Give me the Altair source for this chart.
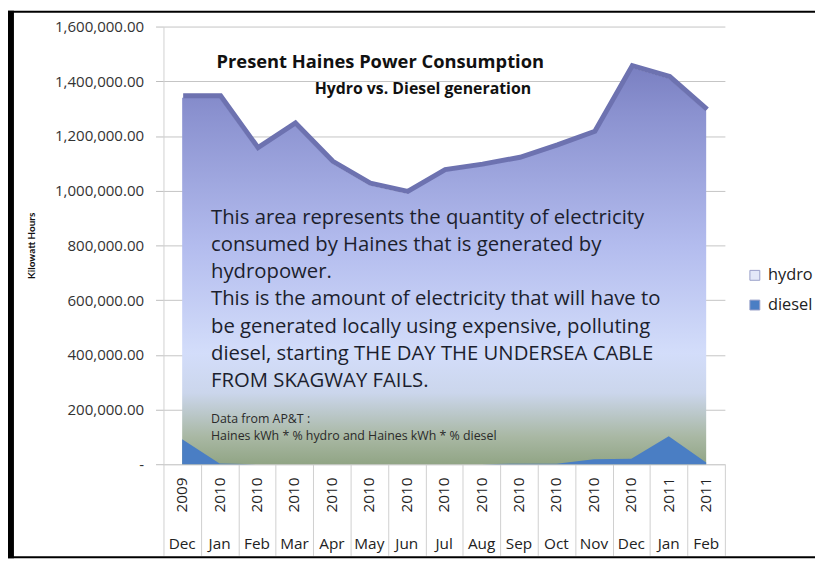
import altair as alt
import pandas as pd

months = ["Dec", "Jan", "Feb", "Mar", "Apr", "May", "Jun", "Jul", "Aug", "Sep", "Oct", "Nov", "Dec", "Jan", "Feb"]
years = ["2009", "2010", "2010", "2010", "2010", "2010", "2010", "2010", "2010", "2010", "2010", "2010", "2010", "2011", "2011"]
hydro = [1340000, 1340000, 1150000, 1240000, 1100000, 1020000, 990000, 1070000,
         1090000, 1115000, 1160000, 1210000, 1450000, 1410000, 1290000]
diesel = [91000, 3000, 0, 0, 0, 0, 0, 0, 0, 2000, 2000, 18000, 20000, 102000, 6000]
y_ticks = [0, 200000, 400000, 600000, 800000, 1000000, 1200000, 1400000, 1600000]
series_names = ["hydro", "diesel"]

title_text = "Present Haines Power Consumption"
subtitle_text = "Hydro vs. Diesel generation"
note_lines = [
    "This area represents the quantity of electricity",
    "consumed by Haines that is generated by",
    "hydropower.",
    "This is the amount of electricity that will have to",
    "be generated locally using expensive, polluting",
    "diesel, starting THE DAY THE UNDERSEA CABLE",
    "FROM SKAGWAY FAILS.",
]
source_lines = ["Data from AP&T :", "Haines kWh  * % hydro and Haines kWh * % diesel"]

cats = [f"{m} {y}" for m, y in zip(months, years)]
df = pd.DataFrame({"cat": cats, "month": months, "year": years, "hydro": hydro, "diesel": diesel})
one = pd.DataFrame({"k": [0]})

FONT = "Open Sans"
W, H = 567, 442

x = alt.X(
    "cat:N", sort=cats, title=None,
    scale=alt.Scale(type="band", paddingInner=0, paddingOuter=0),
    axis=alt.Axis(labels=False, ticks=True, tickBand="extent", tickSize=92,
                  tickColor="#cfcfcf", domain=True, domainColor="#cfcfcf", grid=False),
)
yscale = alt.Scale(domain=[0, 1600000], nice=False)
yaxis = alt.Axis(
    values=y_ticks, title="Kilowatt Hours",
    labelExpr="datum.value == 0 ? '-' : format(datum.value, ',.2f')",
    labelFont=FONT, labelFontSize=15.2, labelColor="#333333", labelPadding=12,
    tickSize=8, tickColor="#bdbdbd", domain=True, domainColor="#d0d0d0",
    grid=True, gridColor="#c4c4c4",
    titleFont="Lato", titleFontSize=10, titleFontWeight="bold", titleColor="#111111",
    titleX=-133, titleY=H / 2, titleAngle=270, titleAlign="center", titleBaseline="middle",
)

grad = alt.Gradient(
    gradient="linear", x1=0, y1=0, x2=0, y2=1,
    stops=[
        alt.GradientStop(color="#7a80c2", offset=0.0),
        alt.GradientStop(color="#8b92d0", offset=0.12),
        alt.GradientStop(color="#b3bcee", offset=0.45),
        alt.GradientStop(color="#d3ddfa", offset=0.72),
        alt.GradientStop(color="#cbd6ec", offset=0.82),
        alt.GradientStop(color="#a9b8a4", offset=0.93),
        alt.GradientStop(color="#91a585", offset=1.0),
    ],
)

hydro_area = alt.Chart(df).mark_area(fill=grad).encode(
    x=x, y=alt.Y("hydro:Q", scale=yscale, axis=yaxis))
hydro_edge = alt.Chart(df).mark_line(color="#6d72b0", strokeWidth=5, yOffset=-2, xOffset=1).encode(
    x=x, y=alt.Y("hydro:Q", scale=yscale, axis=yaxis))
diesel_area = alt.Chart(df).mark_area(color="#4a7ec4").encode(
    x=x, y=alt.Y("diesel:Q", scale=yscale, axis=yaxis))

year_text = alt.Chart(df).mark_text(angle=270, font=FONT, fontSize=15.5, color="#222222",
                                    align="center", baseline="middle").encode(
    x=x, y=alt.value(473), text="year:N")
month_text = alt.Chart(df).mark_text(font=FONT, fontSize=15.5, color="#222222",
                                     align="center", baseline="middle").encode(
    x=x, y=alt.value(523), text="month:N")

title_mark = alt.Chart(one).mark_text(text=title_text, font=FONT, fontSize=18.5, fontWeight="bold",
                                      color="#111111", align="center", baseline="middle").encode(
    x=alt.value(219), y=alt.value(36))
subtitle_mark = alt.Chart(one).mark_text(text=subtitle_text, font=FONT, fontSize=16, fontWeight="bold",
                                         color="#111111", align="center", baseline="middle").encode(
    x=alt.value(262), y=alt.value(63))
note_mark = alt.Chart(one).mark_text(text=note_lines, font=FONT, fontSize=20.5, lineHeight=27.5,
                                     color="#1c1f2e", align="left", baseline="top").encode(
    x=alt.value(48), y=alt.value(183))
source_mark = alt.Chart(one).mark_text(text=source_lines, font=FONT, fontSize=12.5, lineHeight=18,
                                       color="#2a2a2a", align="left", baseline="top").encode(
    x=alt.value(48), y=alt.value(390))

legend_layer = alt.Chart(pd.DataFrame({"series": series_names})).mark_square(opacity=0).encode(
    color=alt.Color("series:N",
                    scale=alt.Scale(domain=series_names, range=["#e3e8f8", "#4a7ec4"]),
                    legend=alt.Legend(title=None, orient="none", legendX=589, legendY=243,
                                      symbolType="square", symbolSize=100, symbolOpacity=1,
                                      symbolStrokeColor="#9aa0c8", symbolStrokeWidth=1,
                                      labelFont=FONT, labelFontSize=16.5, labelColor="#222222",
                                      rowPadding=13, labelOffset=5)))

frame_left = alt.Chart(one).mark_rule(color="black", strokeWidth=6).encode(
    x=alt.value(-154), y=alt.value(-16), y2=alt.value(537))
frame_top = alt.Chart(one).mark_rule(color="black", strokeWidth=2).encode(
    x=alt.value(-157), x2=alt.value(660), y=alt.value(-15))
frame_bottom = alt.Chart(one).mark_rule(color="black", strokeWidth=2).encode(
    x=alt.value(-157), x2=alt.value(660), y=alt.value(536))

chart = alt.layer(
    hydro_area, hydro_edge, diesel_area, year_text, month_text,
    title_mark, subtitle_mark, note_mark, source_mark, legend_layer,
    frame_left, frame_top, frame_bottom,
).properties(
    width=W, height=H,
    autosize=alt.AutoSizeParams(type="none"),
    padding={"left": 157, "top": 16, "right": 91, "bottom": 95},
    background="white",
).configure_view(stroke=None)

chart.save("out.html", embed_options={"renderer": "svg", "actions": False})
